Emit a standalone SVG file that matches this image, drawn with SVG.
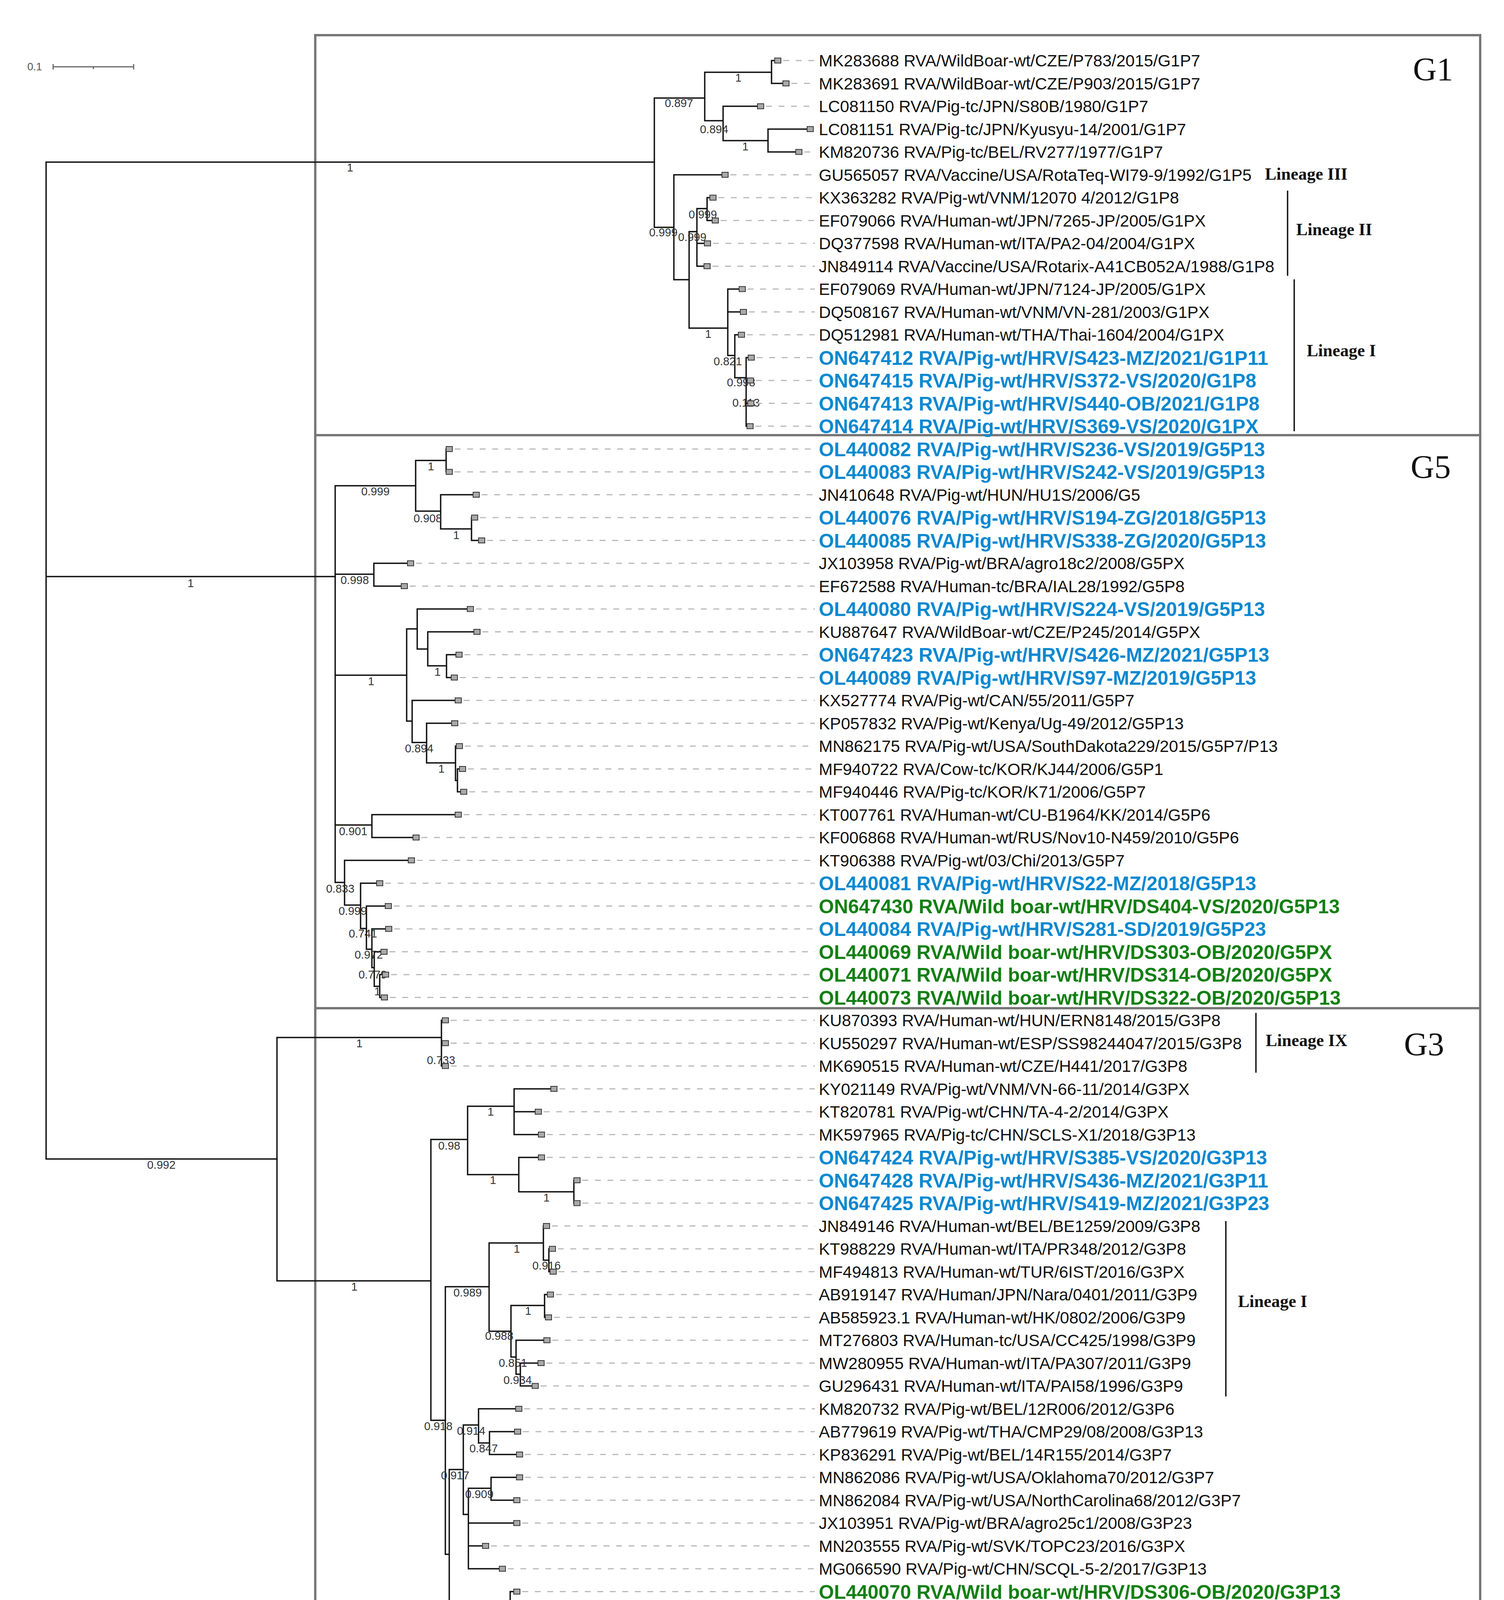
<svg xmlns="http://www.w3.org/2000/svg" width="3850" height="5046" viewBox="0 0 3850 5046">
<style>
.br{fill:none;stroke:#111;stroke-width:3.5;stroke-linecap:square}
.m{fill:#a9a9a9;stroke:#333;stroke-width:2}
.d{fill:none;stroke:#b9b9b9;stroke-width:3;stroke-dasharray:15 17}
.k{font-family:'Liberation Sans',Arial,sans-serif;font-size:42.5px;fill:#111}
.b{font-family:'Liberation Sans',Arial,sans-serif;font-size:50px;font-weight:bold;fill:#0a88d0}
.g{font-family:'Liberation Sans',Arial,sans-serif;font-size:50px;font-weight:bold;fill:#127f12}
.s{font-family:'Liberation Sans',Arial,sans-serif;font-size:29px;fill:#333;text-anchor:middle}
.lin{font-family:'Liberation Serif','Times New Roman',serif;font-size:44px;font-weight:bold;fill:#111}
.gl{font-family:'Liberation Serif','Times New Roman',serif;font-size:84px;fill:#111}
.box{fill:none;stroke:#777;stroke-width:6}
.brk{stroke:#111;stroke-width:3.5}
</style>
<rect width="3850" height="5046" fill="#fff"/>
<g id="frame">
<rect class="box" x="807" y="90" width="2982" height="4858"/>
<path class="box" d="M807,1114H3789M807,2581H3789"/>
</g>
<g id="scalebar">
<text x="70" y="180" font-family="'Liberation Sans',Arial,sans-serif" font-size="27" fill="#555">0.1</text>
<path d="M136,171H342M136,164V178M342,164V178M239,171V177" stroke="#666" stroke-width="3" fill="none"/>
</g>
<g id="connectors">
<path class="br" d="M118,415V2967M118,415H1675M118,1476H858M118,2967H709"/>
<path class="br" d="M1675,251V582M1675,251H1804M1675,582H1725
M1804,185V309M1804,185H1975M1804,309H1851
M1975,155V213.5M1975,155H1983M1975,213.5H2004
M1851,272V360M1851,272H1939M1851,360H1966
M1966,330.5V389M1966,330.5H2066M1966,389H2037
M1725,447.5V716M1725,447.5H1848M1725,716H1764
M1764,593V840M1764,593H1784M1764,840H1863
M1784,534V681.5M1784,534H1810M1784,623H1803M1784,681.5H1802
M1810,506V564.5M1810,506H1817M1810,564.5H1823
M1863,740V910M1863,740H1892M1863,798.5H1895M1863,910H1881
M1881,857V967M1881,857H1890M1881,967H1910
M1910,915.5V1091M1910,915.5H1915M1910,974H1913M1910,1032.5H1914M1910,1091H1912"/>
<path class="br" d="M858,1243.5V2259M858,1243.5H1064M858,1470H957M858,1728.5H1041M858,2112H952M858,2259H882
M1064,1178.75V1308.5M1064,1178.75H1142M1064,1308.5H1128
M1142,1149.5V1208
M1128,1266.5V1354M1128,1266.5H1211M1128,1354H1207
M1207,1325V1383.5M1207,1383.5H1225
M957,1442V1500.5M957,1442H1043M957,1500.5H1027
M1041,1610V1846M1041,1610H1068M1041,1846H1055
M1068,1559V1661.5M1068,1559H1196M1068,1661.5H1095
M1095,1617.5V1704.6M1095,1617.5H1213M1095,1704.6H1143
M1143,1676V1734.5M1143,1676H1167M1143,1734.5H1155
M1055,1793V1900.7M1055,1793H1165M1055,1900.7H1092
M1092,1851.5V1953M1092,1851.5H1156M1092,1953H1166
M1166,1910V1998M1166,1910H1168M1166,1998H1171
M1171,1968.5V2027M1171,1968.5H1176M1171,2027H1179
M952,2085.5V2144M952,2085.5H1165M952,2144H1057
M882,2202.5V2317M882,2202.5H1045M882,2317H923
M923,2261V2377M923,2261H964M923,2377H938
M938,2319.5V2430M938,2319.5H986M938,2430H952
M952,2378V2477M952,2378H987M952,2477H958
M958,2436.5V2525M958,2436.5H975M958,2525H972
M972,2495V2553.5M972,2495H979M972,2553.5H976"/>
<path class="br" d="M709,2656V3279M709,2656H1130M709,3279H1103
M1130,2612V2729
M1103,2917V3636M1103,2917H1197M1103,3636H1140
M1197,2832V3007M1197,2832H1316M1197,3007H1328
M1316,2787.5V2904.5M1316,2787.5H1410M1316,2846H1370M1316,2904.5H1378
M1328,2963V3051M1328,2963H1378M1328,3051H1469
M1469,3021.5V3080
M1140,3294V3979M1140,3294H1252M1140,3979H1150
M1252,3182V3408M1252,3182H1391M1252,3408H1308
M1391,3138.5V3226M1391,3226H1405
M1405,3197V3255.5M1405,3197H1406M1405,3255.5H1408
M1308,3342V3474M1308,3342H1394M1308,3474H1321
M1394,3314V3372.5M1394,3314H1401M1394,3372.5H1396
M1321,3431V3518M1321,3431H1392M1321,3518H1332
M1332,3489.5V3548M1332,3489.5H1377M1332,3548H1362
M1150,3762V4193M1150,3762H1186M1150,4193H1174
M1186,3648V3877M1186,3648H1225M1186,3877H1199
M1225,3606.5V3694M1225,3606.5H1320M1225,3694H1253
M1253,3665V3723.5M1253,3665H1317M1253,3723.5H1322
M1199,3810V4016M1199,3810H1257M1199,3899H1315M1199,3957.5H1235M1199,4016H1278
M1257,3782V3840.5M1257,3782H1322M1257,3840.5H1315
M1174,4103.75V4285M1174,4103.75H1306M1174,4285H1273
M1306,4074.5V4133M1306,4074.5H1315M1306,4133H1307
M1273,4191.5V4820M1273,4191.5H1374M1273,4279H1350M1273,4396H1337M1273,4484H1302M1273,4571H1315M1273,4688H1305M1273,4820H1308
M1350,4250V4308.5M1350,4250H1353M1350,4308.5H1369
M1337,4367V4425.5M1337,4367H1343
M1315,4542.5V4601
M1305,4659.5V4718M1305,4659.5H1345M1305,4718H1306
M1308,4776.5V4893.5M1308,4776.5H1318M1308,4893.5H1310"/>
</g>
<g id="support">
<text class="s" x="896" y="439">1</text><text class="s" x="488" y="1503">1</text><text class="s" x="413" y="2992">0.992</text>
<text class="s" x="1738" y="274">0.897</text><text class="s" x="1890" y="209">1</text><text class="s" x="1828" y="341">0.894</text><text class="s" x="1908" y="385">1</text><text class="s" x="1698" y="605">0.999</text><text class="s" x="1799" y="559">0.999</text><text class="s" x="1772" y="617">0.999</text><text class="s" x="1813" y="865">1</text><text class="s" x="1863" y="935">0.821</text><text class="s" x="1897" y="989">0.998</text><text class="s" x="1910" y="1041">0.113</text>
<text class="s" x="961" y="1268">0.999</text><text class="s" x="1103" y="1204">1</text><text class="s" x="1095" y="1337">0.908</text><text class="s" x="1168" y="1380">1</text><text class="s" x="908" y="1495">0.998</text><text class="s" x="950" y="1754">1</text><text class="s" x="1120" y="1730">1</text><text class="s" x="1073" y="1926">0.894</text><text class="s" x="1130" y="1978">1</text><text class="s" x="904" y="2138">0.901</text><text class="s" x="871" y="2285">0.833</text><text class="s" x="903" y="2342">0.999</text><text class="s" x="929" y="2400">0.741</text><text class="s" x="944" y="2454">0.972</text><text class="s" x="954" y="2505">0.779</text><text class="s" x="966" y="2548">1</text>
<text class="s" x="920" y="2681">1</text><text class="s" x="1129" y="2724">0.733</text><text class="s" x="907" y="3304">1</text><text class="s" x="1150" y="2943">0.98</text><text class="s" x="1256" y="2856">1</text><text class="s" x="1262" y="3031">1</text><text class="s" x="1399" y="3076">1</text><text class="s" x="1122" y="3661">0.918</text><text class="s" x="1197" y="3319">0.989</text><text class="s" x="1323" y="3207">1</text><text class="s" x="1399" y="3250">0.916</text><text class="s" x="1278" y="3430">0.988</text><text class="s" x="1352" y="3366">1</text><text class="s" x="1313" y="3499">0.851</text><text class="s" x="1325" y="3543">0.934</text><text class="s" x="1206" y="3673">0.914</text><text class="s" x="1238" y="3718">0.847</text><text class="s" x="1165" y="3787">0.917</text><text class="s" x="1227" y="3835">0.909</text><text class="s" x="1240" y="4128">1</text><text class="s" x="1222" y="4309">1</text><text class="s" x="1310" y="4303">1</text><text class="s" x="1305" y="4420">1</text><text class="s" x="1295" y="4597">1</text><text class="s" x="1292" y="4713">0.997</text><text class="s" x="1295" y="4845">0.999</text><text class="s" x="1310" y="4889">0.911</text>
</g>
<g id="leaves">
<g id="n0"><rect class="m" x="1983" y="148.5" width="16" height="13"/><path class="d" d="M2005,155H2086"/><text class="k" x="2096" y="170">MK283688 RVA/WildBoar-wt/CZE/P783/2015/G1P7</text></g>
<g id="n1"><rect class="m" x="2004" y="207" width="16" height="13"/><path class="d" d="M2026,213.5H2086"/><text class="k" x="2096" y="228.5">MK283691 RVA/WildBoar-wt/CZE/P903/2015/G1P7</text></g>
<g id="n2"><rect class="m" x="1939" y="265.5" width="16" height="13"/><path class="d" d="M1961,272H2086"/><text class="k" x="2096" y="287">LC081150 RVA/Pig-tc/JPN/S80B/1980/G1P7</text></g>
<g id="n3"><rect class="m" x="2066" y="324" width="16" height="13"/><text class="k" x="2096" y="345.5">LC081151 RVA/Pig-tc/JPN/Kyusyu-14/2001/G1P7</text></g>
<g id="n4"><rect class="m" x="2037" y="382.5" width="16" height="13"/><path class="d" d="M2059,389H2086"/><text class="k" x="2096" y="404">KM820736 RVA/Pig-tc/BEL/RV277/1977/G1P7</text></g>
<g id="n5"><rect class="m" x="1848" y="441" width="16" height="13"/><path class="d" d="M1870,447.5H2086"/><text class="k" x="2096" y="462.5">GU565057 RVA/Vaccine/USA/RotaTeq-WI79-9/1992/G1P5</text></g>
<g id="n6"><rect class="m" x="1817" y="499.5" width="16" height="13"/><path class="d" d="M1839,506H2086"/><text class="k" x="2096" y="521">KX363282 RVA/Pig-wt/VNM/12070 4/2012/G1P8</text></g>
<g id="n7"><rect class="m" x="1823" y="558" width="16" height="13"/><path class="d" d="M1845,564.5H2086"/><text class="k" x="2096" y="579.5">EF079066 RVA/Human-wt/JPN/7265-JP/2005/G1PX</text></g>
<g id="n8"><rect class="m" x="1803" y="616.5" width="16" height="13"/><path class="d" d="M1825,623H2086"/><text class="k" x="2096" y="638">DQ377598 RVA/Human-wt/ITA/PA2-04/2004/G1PX</text></g>
<g id="n9"><rect class="m" x="1802" y="675" width="16" height="13"/><path class="d" d="M1824,681.5H2086"/><text class="k" x="2096" y="696.5">JN849114 RVA/Vaccine/USA/Rotarix-A41CB052A/1988/G1P8</text></g>
<g id="n10"><rect class="m" x="1892" y="733.5" width="16" height="13"/><path class="d" d="M1914,740H2086"/><text class="k" x="2096" y="755">EF079069 RVA/Human-wt/JPN/7124-JP/2005/G1PX</text></g>
<g id="n11"><rect class="m" x="1895" y="792" width="16" height="13"/><path class="d" d="M1917,798.5H2086"/><text class="k" x="2096" y="813.5">DQ508167 RVA/Human-wt/VNM/VN-281/2003/G1PX</text></g>
<g id="n12"><rect class="m" x="1890" y="850.5" width="16" height="13"/><path class="d" d="M1912,857H2086"/><text class="k" x="2096" y="872">DQ512981 RVA/Human-wt/THA/Thai-1604/2004/G1PX</text></g>
<g id="n13"><rect class="m" x="1915" y="909" width="16" height="13"/><path class="d" d="M1937,915.5H2086"/><text class="b" x="2096" y="933.5">ON647412 RVA/Pig-wt/HRV/S423-MZ/2021/G1P11</text></g>
<g id="n14"><rect class="m" x="1913" y="967.5" width="16" height="13"/><path class="d" d="M1935,974H2086"/><text class="b" x="2096" y="992">ON647415 RVA/Pig-wt/HRV/S372-VS/2020/G1P8</text></g>
<g id="n15"><rect class="m" x="1914" y="1026" width="16" height="13"/><path class="d" d="M1936,1032.5H2086"/><text class="b" x="2096" y="1050.5">ON647413 RVA/Pig-wt/HRV/S440-OB/2021/G1P8</text></g>
<g id="n16"><rect class="m" x="1912" y="1084.5" width="16" height="13"/><path class="d" d="M1934,1091H2086"/><text class="b" x="2096" y="1109">ON647414 RVA/Pig-wt/HRV/S369-VS/2020/G1PX</text></g>
<g id="n17"><rect class="m" x="1142" y="1143" width="16" height="13"/><path class="d" d="M1164,1149.5H2086"/><text class="b" x="2096" y="1167.5">OL440082 RVA/Pig-wt/HRV/S236-VS/2019/G5P13</text></g>
<g id="n18"><rect class="m" x="1142" y="1201.5" width="16" height="13"/><path class="d" d="M1164,1208H2086"/><text class="b" x="2096" y="1226">OL440083 RVA/Pig-wt/HRV/S242-VS/2019/G5P13</text></g>
<g id="n19"><rect class="m" x="1211" y="1260" width="16" height="13"/><path class="d" d="M1233,1266.5H2086"/><text class="k" x="2096" y="1281.5">JN410648 RVA/Pig-wt/HUN/HU1S/2006/G5</text></g>
<g id="n20"><rect class="m" x="1207" y="1318.5" width="16" height="13"/><path class="d" d="M1229,1325H2086"/><text class="b" x="2096" y="1343">OL440076 RVA/Pig-wt/HRV/S194-ZG/2018/G5P13</text></g>
<g id="n21"><rect class="m" x="1225" y="1377" width="16" height="13"/><path class="d" d="M1247,1383.5H2086"/><text class="b" x="2096" y="1401.5">OL440085 RVA/Pig-wt/HRV/S338-ZG/2020/G5P13</text></g>
<g id="n22"><rect class="m" x="1043" y="1435.5" width="16" height="13"/><path class="d" d="M1065,1442H2086"/><text class="k" x="2096" y="1457">JX103958 RVA/Pig-wt/BRA/agro18c2/2008/G5PX</text></g>
<g id="n23"><rect class="m" x="1027" y="1494" width="16" height="13"/><path class="d" d="M1049,1500.5H2086"/><text class="k" x="2096" y="1515.5">EF672588 RVA/Human-tc/BRA/IAL28/1992/G5P8</text></g>
<g id="n24"><rect class="m" x="1196" y="1552.5" width="16" height="13"/><path class="d" d="M1218,1559H2086"/><text class="b" x="2096" y="1577">OL440080 RVA/Pig-wt/HRV/S224-VS/2019/G5P13</text></g>
<g id="n25"><rect class="m" x="1213" y="1611" width="16" height="13"/><path class="d" d="M1235,1617.5H2086"/><text class="k" x="2096" y="1632.5">KU887647 RVA/WildBoar-wt/CZE/P245/2014/G5PX</text></g>
<g id="n26"><rect class="m" x="1167" y="1669.5" width="16" height="13"/><path class="d" d="M1189,1676H2086"/><text class="b" x="2096" y="1694">ON647423 RVA/Pig-wt/HRV/S426-MZ/2021/G5P13</text></g>
<g id="n27"><rect class="m" x="1155" y="1728" width="16" height="13"/><path class="d" d="M1177,1734.5H2086"/><text class="b" x="2096" y="1752.5">OL440089 RVA/Pig-wt/HRV/S97-MZ/2019/G5P13</text></g>
<g id="n28"><rect class="m" x="1165" y="1786.5" width="16" height="13"/><path class="d" d="M1187,1793H2086"/><text class="k" x="2096" y="1808">KX527774 RVA/Pig-wt/CAN/55/2011/G5P7</text></g>
<g id="n29"><rect class="m" x="1156" y="1845" width="16" height="13"/><path class="d" d="M1178,1851.5H2086"/><text class="k" x="2096" y="1866.5">KP057832 RVA/Pig-wt/Kenya/Ug-49/2012/G5P13</text></g>
<g id="n30"><rect class="m" x="1168" y="1903.5" width="16" height="13"/><path class="d" d="M1190,1910H2086"/><text class="k" x="2096" y="1925">MN862175 RVA/Pig-wt/USA/SouthDakota229/2015/G5P7/P13</text></g>
<g id="n31"><rect class="m" x="1176" y="1962" width="16" height="13"/><path class="d" d="M1198,1968.5H2086"/><text class="k" x="2096" y="1983.5">MF940722 RVA/Cow-tc/KOR/KJ44/2006/G5P1</text></g>
<g id="n32"><rect class="m" x="1179" y="2020.5" width="16" height="13"/><path class="d" d="M1201,2027H2086"/><text class="k" x="2096" y="2042">MF940446 RVA/Pig-tc/KOR/K71/2006/G5P7</text></g>
<g id="n33"><rect class="m" x="1165" y="2079" width="16" height="13"/><path class="d" d="M1187,2085.5H2086"/><text class="k" x="2096" y="2100.5">KT007761 RVA/Human-wt/CU-B1964/KK/2014/G5P6</text></g>
<g id="n34"><rect class="m" x="1057" y="2137.5" width="16" height="13"/><path class="d" d="M1079,2144H2086"/><text class="k" x="2096" y="2159">KF006868 RVA/Human-wt/RUS/Nov10-N459/2010/G5P6</text></g>
<g id="n35"><rect class="m" x="1045" y="2196" width="16" height="13"/><path class="d" d="M1067,2202.5H2086"/><text class="k" x="2096" y="2217.5">KT906388 RVA/Pig-wt/03/Chi/2013/G5P7</text></g>
<g id="n36"><rect class="m" x="964" y="2254.5" width="16" height="13"/><path class="d" d="M986,2261H2086"/><text class="b" x="2096" y="2279">OL440081 RVA/Pig-wt/HRV/S22-MZ/2018/G5P13</text></g>
<g id="n37"><rect class="m" x="986" y="2313" width="16" height="13"/><path class="d" d="M1008,2319.5H2086"/><text class="g" x="2096" y="2337.5">ON647430 RVA/Wild boar-wt/HRV/DS404-VS/2020/G5P13</text></g>
<g id="n38"><rect class="m" x="987" y="2371.5" width="16" height="13"/><path class="d" d="M1009,2378H2086"/><text class="b" x="2096" y="2396">OL440084 RVA/Pig-wt/HRV/S281-SD/2019/G5P23</text></g>
<g id="n39"><rect class="m" x="975" y="2430" width="16" height="13"/><path class="d" d="M997,2436.5H2086"/><text class="g" x="2096" y="2454.5">OL440069 RVA/Wild boar-wt/HRV/DS303-OB/2020/G5PX</text></g>
<g id="n40"><rect class="m" x="979" y="2488.5" width="16" height="13"/><path class="d" d="M1001,2495H2086"/><text class="g" x="2096" y="2513">OL440071 RVA/Wild boar-wt/HRV/DS314-OB/2020/G5PX</text></g>
<g id="n41"><rect class="m" x="976" y="2547" width="16" height="13"/><path class="d" d="M998,2553.5H2086"/><text class="g" x="2096" y="2571.5">OL440073 RVA/Wild boar-wt/HRV/DS322-OB/2020/G5P13</text></g>
<g id="n42"><rect class="m" x="1132" y="2605.5" width="16" height="13"/><path class="d" d="M1154,2612H2086"/><text class="k" x="2096" y="2627">KU870393 RVA/Human-wt/HUN/ERN8148/2015/G3P8</text></g>
<g id="n43"><rect class="m" x="1132" y="2664" width="16" height="13"/><path class="d" d="M1154,2670.5H2086"/><text class="k" x="2096" y="2685.5">KU550297 RVA/Human-wt/ESP/SS98244047/2015/G3P8</text></g>
<g id="n44"><rect class="m" x="1132" y="2722.5" width="16" height="13"/><path class="d" d="M1154,2729H2086"/><text class="k" x="2096" y="2744">MK690515 RVA/Human-wt/CZE/H441/2017/G3P8</text></g>
<g id="n45"><rect class="m" x="1410" y="2781" width="16" height="13"/><path class="d" d="M1432,2787.5H2086"/><text class="k" x="2096" y="2802.5">KY021149 RVA/Pig-wt/VNM/VN-66-11/2014/G3PX</text></g>
<g id="n46"><rect class="m" x="1370" y="2839.5" width="16" height="13"/><path class="d" d="M1392,2846H2086"/><text class="k" x="2096" y="2861">KT820781 RVA/Pig-wt/CHN/TA-4-2/2014/G3PX</text></g>
<g id="n47"><rect class="m" x="1378" y="2898" width="16" height="13"/><path class="d" d="M1400,2904.5H2086"/><text class="k" x="2096" y="2919.5">MK597965 RVA/Pig-tc/CHN/SCLS-X1/2018/G3P13</text></g>
<g id="n48"><rect class="m" x="1378" y="2956.5" width="16" height="13"/><path class="d" d="M1400,2963H2086"/><text class="b" x="2096" y="2981">ON647424 RVA/Pig-wt/HRV/S385-VS/2020/G3P13</text></g>
<g id="n49"><rect class="m" x="1469" y="3015" width="16" height="13"/><path class="d" d="M1491,3021.5H2086"/><text class="b" x="2096" y="3039.5">ON647428 RVA/Pig-wt/HRV/S436-MZ/2021/G3P11</text></g>
<g id="n50"><rect class="m" x="1469" y="3073.5" width="16" height="13"/><path class="d" d="M1491,3080H2086"/><text class="b" x="2096" y="3098">ON647425 RVA/Pig-wt/HRV/S419-MZ/2021/G3P23</text></g>
<g id="n51"><rect class="m" x="1391" y="3132" width="16" height="13"/><path class="d" d="M1413,3138.5H2086"/><text class="k" x="2096" y="3153.5">JN849146 RVA/Human-wt/BEL/BE1259/2009/G3P8</text></g>
<g id="n52"><rect class="m" x="1406" y="3190.5" width="16" height="13"/><path class="d" d="M1428,3197H2086"/><text class="k" x="2096" y="3212">KT988229 RVA/Human-wt/ITA/PR348/2012/G3P8</text></g>
<g id="n53"><rect class="m" x="1408" y="3249" width="16" height="13"/><path class="d" d="M1430,3255.5H2086"/><text class="k" x="2096" y="3270.5">MF494813 RVA/Human-wt/TUR/6IST/2016/G3PX</text></g>
<g id="n54"><rect class="m" x="1401" y="3307.5" width="16" height="13"/><path class="d" d="M1423,3314H2086"/><text class="k" x="2096" y="3329">AB919147 RVA/Human/JPN/Nara/0401/2011/G3P9</text></g>
<g id="n55"><rect class="m" x="1396" y="3366" width="16" height="13"/><path class="d" d="M1418,3372.5H2086"/><text class="k" x="2096" y="3387.5">AB585923.1 RVA/Human-wt/HK/0802/2006/G3P9</text></g>
<g id="n56"><rect class="m" x="1392" y="3424.5" width="16" height="13"/><path class="d" d="M1414,3431H2086"/><text class="k" x="2096" y="3446">MT276803 RVA/Human-tc/USA/CC425/1998/G3P9</text></g>
<g id="n57"><rect class="m" x="1377" y="3483" width="16" height="13"/><path class="d" d="M1399,3489.5H2086"/><text class="k" x="2096" y="3504.5">MW280955 RVA/Human-wt/ITA/PA307/2011/G3P9</text></g>
<g id="n58"><rect class="m" x="1362" y="3541.5" width="16" height="13"/><path class="d" d="M1384,3548H2086"/><text class="k" x="2096" y="3563">GU296431 RVA/Human-wt/ITA/PAI58/1996/G3P9</text></g>
<g id="n59"><rect class="m" x="1320" y="3600" width="16" height="13"/><path class="d" d="M1342,3606.5H2086"/><text class="k" x="2096" y="3621.5">KM820732 RVA/Pig-wt/BEL/12R006/2012/G3P6</text></g>
<g id="n60"><rect class="m" x="1317" y="3658.5" width="16" height="13"/><path class="d" d="M1339,3665H2086"/><text class="k" x="2096" y="3680">AB779619 RVA/Pig-wt/THA/CMP29/08/2008/G3P13</text></g>
<g id="n61"><rect class="m" x="1322" y="3717" width="16" height="13"/><path class="d" d="M1344,3723.5H2086"/><text class="k" x="2096" y="3738.5">KP836291 RVA/Pig-wt/BEL/14R155/2014/G3P7</text></g>
<g id="n62"><rect class="m" x="1322" y="3775.5" width="16" height="13"/><path class="d" d="M1344,3782H2086"/><text class="k" x="2096" y="3797">MN862086 RVA/Pig-wt/USA/Oklahoma70/2012/G3P7</text></g>
<g id="n63"><rect class="m" x="1315" y="3834" width="16" height="13"/><path class="d" d="M1337,3840.5H2086"/><text class="k" x="2096" y="3855.5">MN862084 RVA/Pig-wt/USA/NorthCarolina68/2012/G3P7</text></g>
<g id="n64"><rect class="m" x="1315" y="3892.5" width="16" height="13"/><path class="d" d="M1337,3899H2086"/><text class="k" x="2096" y="3914">JX103951 RVA/Pig-wt/BRA/agro25c1/2008/G3P23</text></g>
<g id="n65"><rect class="m" x="1235" y="3951" width="16" height="13"/><path class="d" d="M1257,3957.5H2086"/><text class="k" x="2096" y="3972.5">MN203555 RVA/Pig-wt/SVK/TOPC23/2016/G3PX</text></g>
<g id="n66"><rect class="m" x="1278" y="4009.5" width="16" height="13"/><path class="d" d="M1300,4016H2086"/><text class="k" x="2096" y="4031">MG066590 RVA/Pig-wt/CHN/SCQL-5-2/2017/G3P13</text></g>
<g id="n67"><rect class="m" x="1315" y="4068" width="16" height="13"/><path class="d" d="M1337,4074.5H2086"/><text class="g" x="2096" y="4092.5">OL440070 RVA/Wild boar-wt/HRV/DS306-OB/2020/G3P13</text></g>
<g id="n68"><rect class="m" x="1307" y="4126.5" width="16" height="13"/><path class="d" d="M1329,4133H2086"/><text class="g" x="2096" y="4151">OL440068 RVA/Wild boar-wt/HRV/DS302-OB/2020/G3P13</text></g>
<g id="n69"><rect class="m" x="1374" y="4185" width="16" height="13"/><path class="d" d="M1396,4191.5H2086"/><text class="b" x="2096" y="4209.5">ON647426 RVA/Pig-wt/HRV/S234-VS/2019/G3P13</text></g>
<g id="n70"><rect class="m" x="1353" y="4243.5" width="16" height="13"/><path class="d" d="M1375,4250H2086"/><text class="b" x="2096" y="4268">OL440079 RVA/Pig-wt/HRV/S220-VS/2019/G3P23</text></g>
<g id="n71"><rect class="m" x="1369" y="4302" width="16" height="13"/><path class="d" d="M1391,4308.5H2086"/><text class="b" x="2096" y="4326.5">OL440078 RVA/Pig-wt/HRV/S219-VS/2019/G3P13</text></g>
<g id="n72"><rect class="m" x="1343" y="4360.5" width="16" height="13"/><path class="d" d="M1365,4367H2086"/><text class="b" x="2096" y="4385">ON647427 RVA/Pig-wt/HRV/S349-OB/2020/G3P13</text></g>
<g id="n73"><rect class="m" x="1337" y="4419" width="16" height="13"/><path class="d" d="M1359,4425.5H2086"/><text class="b" x="2096" y="4443.5">OL440086 RVA/Pig-wt/HRV/S348-OB/2020/G3P13</text></g>
<g id="n74"><rect class="m" x="1302" y="4477.5" width="16" height="13"/><path class="d" d="M1324,4484H2086"/><text class="g" x="2096" y="4502">OL440065 RVA/Wild boar-wt/HRV/DS76-Kar/2018/G3PX</text></g>
<g id="n75"><rect class="m" x="1315" y="4536" width="16" height="13"/><path class="d" d="M1337,4542.5H2086"/><text class="b" x="2096" y="4560.5">OL440075 RVA/Pig-wt/HRV/S16-MS/2018/G3P23</text></g>
<g id="n76"><rect class="m" x="1315" y="4594.5" width="16" height="13"/><path class="d" d="M1337,4601H2086"/><text class="b" x="2096" y="4619">OL440074 RVA/Pig-wt/HRV/S134-OB/2018/G3P23</text></g>
<g id="n77"><rect class="m" x="1345" y="4653" width="16" height="13"/><path class="d" d="M1367,4659.5H2086"/><text class="b" x="2096" y="4677.5">OL440077 RVA/Pig-wt/HRV/S20-MZ/2018/G3P13</text></g>
<g id="n78"><rect class="m" x="1306" y="4711.5" width="16" height="13"/><path class="d" d="M1328,4718H2086"/><text class="b" x="2096" y="4736">OL440088 RVA/Pig-wt/HRV/S62-VS/2018/G3P13</text></g>
<g id="n79"><rect class="m" x="1318" y="4770" width="16" height="13"/><path class="d" d="M1340,4776.5H2086"/><text class="g" x="2096" y="4794.5">OL440064 RVA/Wild boar-wt/HRV/DS17-ZG/2018/G3PX</text></g>
<g id="n80"><rect class="m" x="1308" y="4828.5" width="16" height="13"/><path class="d" d="M1330,4835H2086"/><text class="g" x="2096" y="4853">OL440067 RVA/Wild boar-wt/HRV/DS295-OB/2020/G3P13</text></g>
<g id="n81"><rect class="m" x="1310" y="4887" width="16" height="13"/><path class="d" d="M1332,4893.5H2086"/><text class="g" x="2096" y="4911.5">OL440066 RVA/Wild boar-wt/HRV/DS229-Zag/2020/G3P13</text></g>
</g>
<g id="annotations">
<text class="gl" x="3617" y="206">G1</text>
<text class="gl" x="3611" y="1224">G5</text>
<text class="gl" x="3594" y="2702">G3</text>
<text class="lin" x="3238" y="460">Lineage III</text>
<path class="brk" d="M3296,488V706M3313,715V1104M3215,2593V2746M3138,3126V3575"/>
<text class="lin" x="3318" y="602">Lineage II</text>
<text class="lin" x="3345" y="912">Lineage I</text>
<text class="lin" x="3240" y="2678">Lineage IX</text>
<text class="lin" x="3169" y="3346">Lineage I</text>
<text x="132" y="4888" font-family="'Liberation Serif','Times New Roman',serif" font-size="143" font-weight="bold" fill="#000">A</text>
</g>
</svg>
